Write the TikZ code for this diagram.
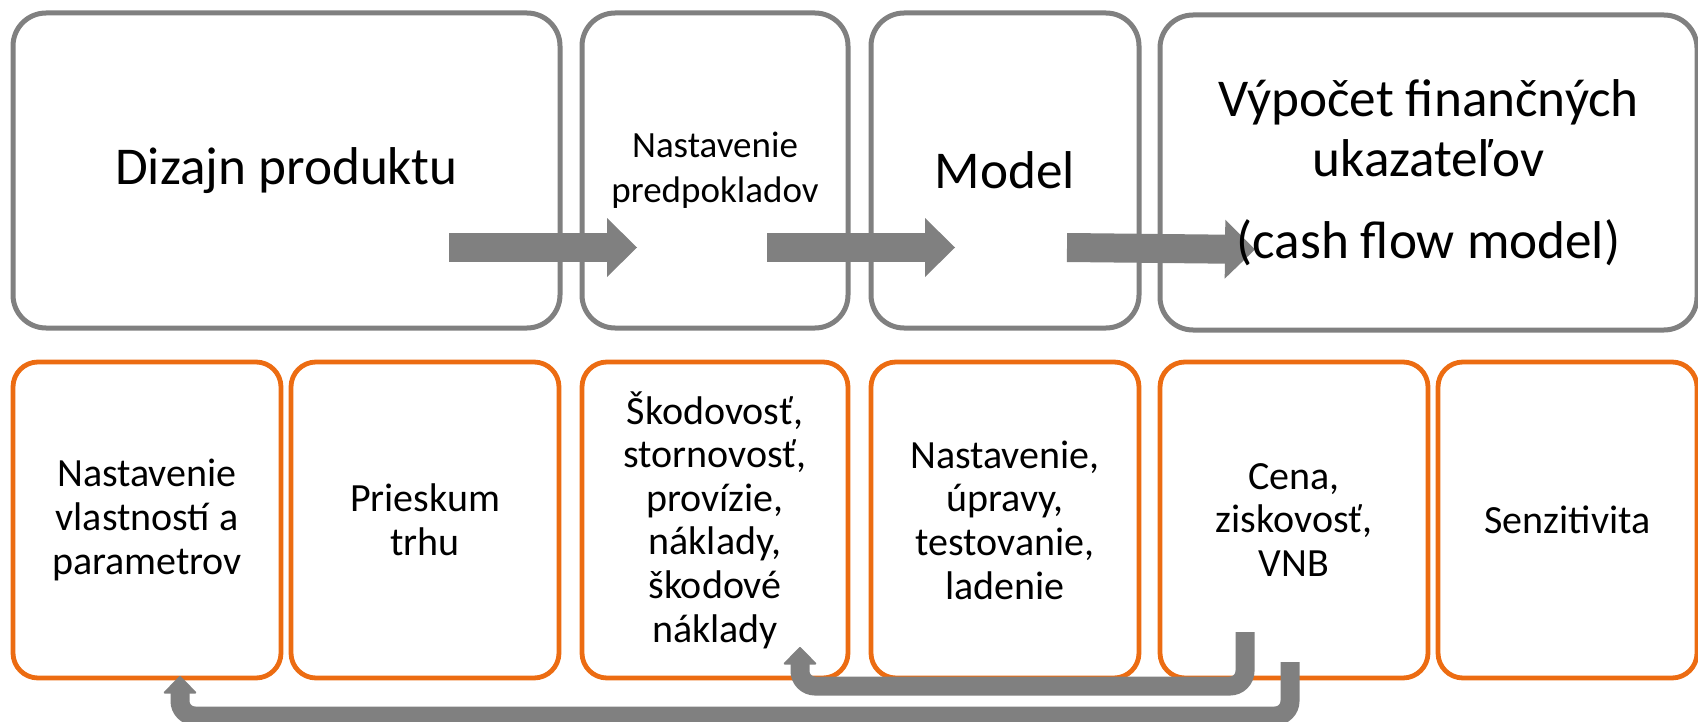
\documentclass[tikz,border=0pt]{standalone}
\usepackage{fontspec}
\setmainfont{Carlito}
\usetikzlibrary{arrows.meta,backgrounds}
\definecolor{sivo}{RGB}{128,128,128}
\definecolor{oranzova}{RGB}{236,108,18}

\begin{document}
\begin{tikzpicture}[x=0.5pt, y=-0.5pt,
    etapa/.style={draw=sivo, line width=2.5pt, rounded corners=16.5pt, align=center, inner sep=0pt, outer sep=0pt, minimum height=157.5pt},
    uloha/.style={draw=oranzova, line width=2.4pt, rounded corners=12.5pt, align=center, inner sep=0pt, outer sep=0pt, minimum height=158pt, minimum width=134pt, font=\fontsize{20}{21.8}\selectfont},
    velky/.style={font=\fontsize{26.6}{30}\selectfont},
    sipka/.style={draw=sivo, line width=14.5pt, -{Triangle[width=29.5pt, length=15pt, line width=0pt]}},
    spatna/.style={draw=sivo, line width=9.5pt, rounded corners=7.5pt, -{Triangle[width=17.5pt, length=9pt, line width=1pt, round]}}]
    \useasboundingbox (0,0) rectangle (1698,722);
    % horny rad
    \node[etapa, velky, minimum width=273.5pt](dizajn) at (286.5,170.5){Dizajn produktu};
    \node[etapa, minimum width=133pt, font=\fontsize{18.5}{22.7}\selectfont](predpoklady) at (715,170.5){Nastavenie\\predpokladov};
    \node[etapa, velky, minimum width=134pt](model) at (1005,170.5){Model};
    \node[etapa, velky, minimum width=268.5pt](vypocet) at (1428.5,172.5){V\'ypo\v{c}et finan\v{c}n\'ych\\ukazate\v{l}ov\\[11pt](cash flow model)};
    % dolny rad
    \node[uloha](vlastnosti) at (147,520){Nastavenie\\vlastností a\\parametrov};
    \node[uloha](prieskum) at (425,520){Prieskum\\trhu};
    \node[uloha, minimum width=133pt](skodovost) at (715,520){Škodovosť,\\stornovosť,\\provízie,\\náklady,\\škodové\\náklady};
    \node[uloha](ladenie) at (1005,520){Nastavenie,\\úpravy,\\testovanie,\\ladenie};
    \node[uloha](cena) at (1294,520){Cena,\\ziskovosť,\\VNB};
    \node[uloha, minimum width=129.5pt](senzitivita) at (1567.5,520){Senzitivita};
    % sipky
    \begin{scope}[on background layer]
        \draw[sipka]([shift={(-111,77)}]dizajn.east)--([shift={(55,77)}]predpoklady.west);
        \draw[sipka]([shift={(-81,77)}]predpoklady.east)--([shift={(84,77)}]model.west);
        \draw[sipka]([shift={(-72,77)}]model.east)--([shift={(95,77)}]vypocet.west);
    \end{scope}
    \draw[spatna]([shift={(-49,-46)}]cena.south)--++(0,54)-|([shift={(85,-31)}]skodovost.south);
    \draw[spatna]([shift={(-4,-16)}]cena.south)--++(0,54)-|([shift={(33,-2)}]vlastnosti.south);
\end{tikzpicture}
\end{document}
